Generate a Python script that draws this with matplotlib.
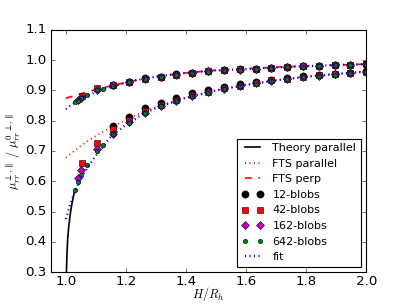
import matplotlib
matplotlib.use('Agg')
import matplotlib.pyplot as plt

plt.style.use('classic')

# near-wall theory (parallel)
h_theory = [1.001, 1.002, 1.004, 1.006, 1.010, 1.015, 1.020, 1.025, 1.030]
mu_theory = [0.25, 0.31, 0.37, 0.41, 0.455, 0.495, 0.525, 0.55, 0.572]

# heights for the curves
h_line = [1.0, 1.01, 1.02, 1.03, 1.05, 1.075, 1.1, 1.15, 1.2, 1.25, 1.3, 1.4,
          1.5, 1.6, 1.7, 1.8, 1.9, 2.0]
fts_par = [0.678, 0.686, 0.694, 0.702, 0.717, 0.734, 0.75, 0.778, 0.802, 0.826,
           0.845, 0.877, 0.90, 0.919, 0.934, 0.946, 0.955, 0.963]
fts_perp = [0.874, 0.877, 0.88, 0.883, 0.889, 0.896, 0.903, 0.915, 0.926, 0.937,
            0.946, 0.958, 0.967, 0.972, 0.977, 0.981, 0.984, 0.987]
fit_par = [0.475, 0.51, 0.54, 0.565, 0.61, 0.65, 0.685, 0.748, 0.786, 0.818,
           0.842, 0.876, 0.90, 0.918, 0.933, 0.945, 0.954, 0.962]
fit_perp = [0.838, 0.846, 0.853, 0.86, 0.872, 0.884, 0.895, 0.912, 0.926, 0.937,
            0.946, 0.958, 0.966, 0.971, 0.976, 0.980, 0.984, 0.987]

grid = [1.158, 1.211, 1.263, 1.316, 1.368, 1.421, 1.474, 1.526, 1.579, 1.632,
        1.684, 1.737, 1.789, 1.842, 1.895, 1.947, 2.0]

# 12 blobs
h12 = grid
par12 = [0.782, 0.813, 0.841, 0.86, 0.875, 0.89, 0.90, 0.911, 0.92, 0.929,
         0.936, 0.942, 0.947, 0.952, 0.955, 0.959, 0.963]
perp12 = [0.918, 0.929, 0.94, 0.946, 0.953, 0.959, 0.964, 0.967, 0.970, 0.972,
          0.975, 0.978, 0.980, 0.982, 0.983, 0.985, 0.987]

# 42 blobs
h42 = [1.053, 1.105] + grid
par42 = [0.661, 0.727, 0.771, 0.803, 0.833, 0.853, 0.869, 0.885, 0.896, 0.907,
         0.916, 0.925, 0.933, 0.939, 0.945, 0.950, 0.953, 0.957, 0.961]
perp42 = [0.882, 0.909, 0.918, 0.929, 0.939, 0.946, 0.952, 0.958, 0.963, 0.967,
          0.970, 0.972, 0.975, 0.977, 0.980, 0.981, 0.983, 0.985, 0.986]

# 162 blobs
h162 = [1.039, 1.051, 1.105] + grid
par162 = [0.612, 0.636, 0.708, 0.757, 0.795, 0.827, 0.849, 0.866, 0.882, 0.894,
          0.905, 0.914, 0.923, 0.931, 0.938, 0.944, 0.949, 0.953, 0.957, 0.961]
perp162 = [0.87, 0.876, 0.902, 0.917, 0.929, 0.939, 0.946, 0.952, 0.958, 0.963,
           0.966, 0.969, 0.972, 0.975, 0.977, 0.980, 0.981, 0.983, 0.985, 0.986]

# 642 blobs
h642 = [1.03, 1.039, 1.051, 1.071, 1.104, 1.122] + grid
par642 = [0.572, 0.597, 0.621, 0.653, 0.70, 0.721, 0.755, 0.793, 0.825, 0.847,
          0.864, 0.881, 0.893, 0.904, 0.913, 0.922, 0.930, 0.937, 0.943, 0.948,
          0.952, 0.957, 0.961]
perp642 = [0.862, 0.866, 0.874, 0.884, 0.90, 0.904, 0.915, 0.927, 0.938, 0.945,
           0.952, 0.957, 0.962, 0.966, 0.969, 0.972, 0.974, 0.977, 0.979, 0.981,
           0.983, 0.985, 0.986]

fig = plt.figure(figsize=(407 / 80, 305 / 80), dpi=80)
ax = fig.add_subplot(111)
fig.subplots_adjust(bottom=0.108, top=0.902)

ax.plot(h_theory, mu_theory, 'k-', lw=1.5, label='Theory parallel')
ax.plot(h_line, fts_par, 'r:', lw=1.5, label='FTS parallel')
ax.plot(h_line, fts_perp, 'r--', lw=1.5, label='FTS perp')

ax.plot(h12, par12, 'ko', ms=6.5, mec='k', mew=0.5, label='12-blobs')
ax.plot(h12, perp12, 'ko', ms=6.5, mec='k', mew=0.5)
ax.plot(h42, par42, 'rs', ms=5, mec='k', mew=0.5, label='42-blobs')
ax.plot(h42, perp42, 'rs', ms=5, mec='k', mew=0.5)
ax.plot(h162, par162, 'mD', ms=4.5, mec='k', mew=0.5, label='162-blobs')
ax.plot(h162, perp162, 'mD', ms=4.5, mec='k', mew=0.5)
ax.plot(h642, par642, 'go', ms=4, mec='k', mew=0.5, label='642-blobs')
ax.plot(h642, perp642, 'go', ms=4, mec='k', mew=0.5)

ax.plot(h_line, fit_par, 'b:', lw=2, label='fit')
ax.plot(h_line, fit_perp, 'b:', lw=2)

ax.set_xlim(0.95, 2.0)
ax.set_ylim(0.3, 1.1)
ax.set_xticks([1.0, 1.2, 1.4, 1.6, 1.8, 2.0])
ax.tick_params(axis='x', pad=3)
ax.set_xlabel(r'$H/R_h$', fontsize=11, labelpad=-3)
ax.set_ylabel(r'$\mu_{rr}^{\perp,\parallel}\ /\ \mu_{rr}^{0\ \perp,\parallel}$',
              fontsize=11, labelpad=2)
ax.legend(loc='lower right', fontsize='small', numpoints=2)

fig.savefig('out.png', dpi=80)
